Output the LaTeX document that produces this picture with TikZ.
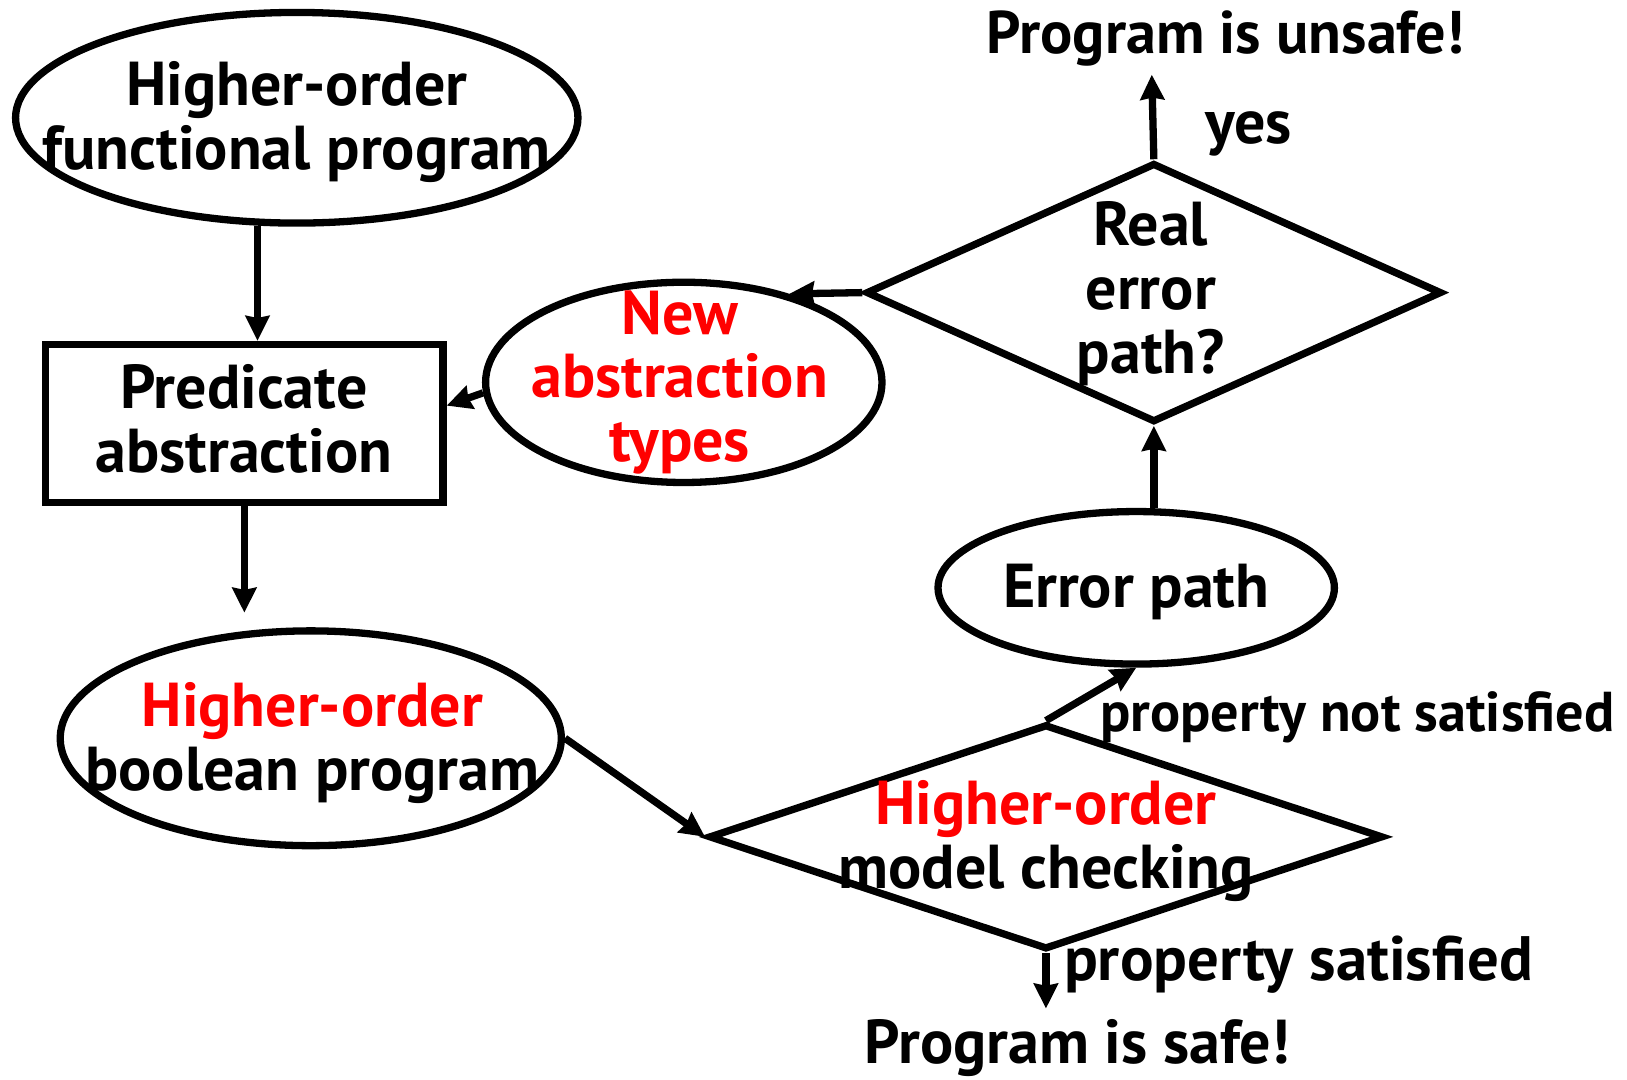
\documentclass[tikz,border=0pt]{standalone}
\usepackage{fontspec}
\setmainfont{PT Sans}
\usetikzlibrary{shapes.geometric,arrows.meta}
\begin{document}
\begin{tikzpicture}[
  line width=2pt,
  every node/.style={font=\fontsize{17}{17.5}\selectfont\bfseries},
  oval/.style={draw, ellipse, inner sep=0pt},
  decision/.style={draw, diamond, inner sep=0pt},
  stepbox/.style={draw, rectangle, inner sep=0pt},
  txt/.style={align=center, anchor=base, inner sep=0pt},
  lbl/.style={inner sep=0pt},
  arr/.style={-{Stealth[length=0.24cm,width=0.23cm,inset=0.02cm]}}
]
\useasboundingbox (0,0) rectangle (15.68,-10.40);

% shapes
\node[oval, minimum width=5.42cm, minimum height=2.03cm] (hofp) at (2.86,-1.135) {};
\node[stepbox, minimum width=3.83cm, minimum height=1.52cm] (pred) at (2.355,-4.08) {};
\node[oval, minimum width=4.83cm, minimum height=2.07cm] (hobp) at (2.995,-7.115) {};
\node[decision, minimum width=6.5cm, minimum height=2.17cm] (homc) at (10.08,-8.065) {};
\node[oval, minimum width=3.82cm, minimum height=1.47cm] (err) at (10.95,-5.665) {};
\node[decision, minimum width=5.55cm, minimum height=2.50cm] (real) at (11.12,-2.82) {};
\node[oval, minimum width=3.82cm, minimum height=1.93cm] (newt) at (6.59,-3.685) {};

% texts inside the shapes (anchored at the baseline of their last line)
\node[txt] (hofpT) at (2.86,-1.63) {Higher-order\\functional program};
\node[txt] (predT) at (2.35,-4.55) {Predicate\\abstraction};
\node[txt] (hobpT) at (3.01,-7.62) {\textcolor{red}{Higher-order}\\boolean program};
\node[txt] (homcT) at (10.08,-8.56) {\textcolor{red}{Higher-order}\\model checking};
\node[txt] (errT) at (10.95,-5.85) {Error path};
\node[txt] (realT) at (11.09,-3.60) {Real\\error\\path?};
\node[txt, text=red] (newtT) at (6.55,-4.45) {New\\abstraction\\types};

% outcome texts and edge labels
\node[lbl, anchor=base, font=\fontsize{16.5}{17}\selectfont\bfseries] (unsafe) at (11.81,-0.52) {Program is unsafe!};
\node[lbl, anchor=base] (safe) at (10.38,-10.25) {Program is safe!};
\node[lbl, anchor=base west] (yes) at (11.58,-1.38) {yes};
\node[lbl, anchor=base west, font=\fontsize{15.4}{16}\selectfont\bfseries] (pns) at (10.57,-7.05) {property not satisfied};
\node[lbl, anchor=base west, font=\fontsize{17.2}{17.5}\selectfont\bfseries] (ps) at (10.22,-9.45) {property satisfied};

\coordinate (safeIn) at (10.08,-9.72);
\coordinate (unsafeIn) at (11.10,-0.72);

% connectors
\draw[arr] (hofp.250) -- (hofp.250 |- pred.north);
\draw[arr] (pred.south) -- ([yshift=0.14cm]pred.south |- hobp.north);
\draw[arr] (hobp.east) -- (homc.west);
\draw[arr] (homc.north) -- (err.south);
\draw[arr] (homc.south) -- (safeIn);
\draw[arr] (err.north -| real.south) -- (real.south);
\draw[arr] (real.north) -- (unsafeIn);
\draw[arr] (real.west) -- (newt.40);
\draw[arr] (newt.183) -- (pred.5);
\end{tikzpicture}
\end{document}
